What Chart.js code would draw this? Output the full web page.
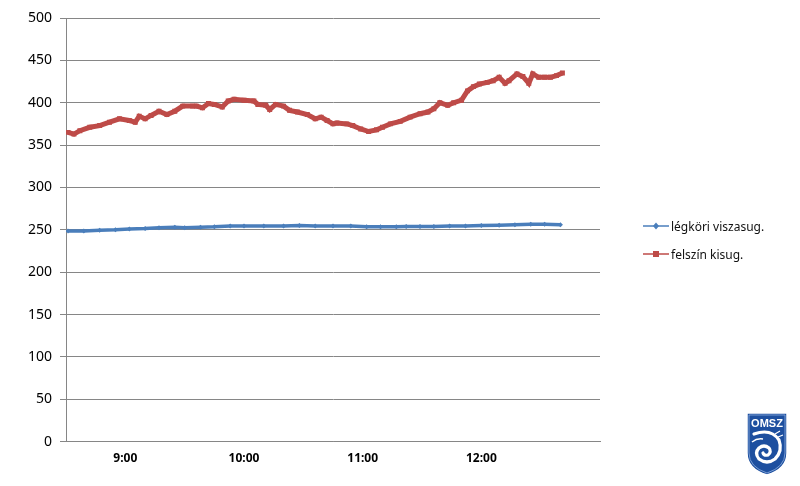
<!DOCTYPE html>
<html>
<head>
<meta charset="utf-8">
<script src="https://cdn.jsdelivr.net/npm/chart.js@4.4.1/dist/chart.umd.min.js"></script>
<style>
  body { margin: 0; background: #fff; }
  #wrap { position: relative; width: 800px; height: 486px; }
  #legend { position: absolute; left: 643px; top: 212px; font: 12px "Noto Sans", sans-serif; color: #111; }
  #legend .row { display: flex; align-items: center; height: 28px; }
  #legend svg { margin-right: 2px; }
  #logo { position: absolute; left: 745px; top: 411px; }
</style>
</head>
<body>
<div id="wrap">
  <canvas id="chart" width="800" height="486"></canvas>
  <div id="legend"></div>
  <svg id="logo" width="44" height="66" viewBox="0 0 44 66">
    <path d="M2 2 H42 V42 Q42 58 22 64 Q2 58 2 42 Z" fill="#1d4f9f" stroke="#ffffff" stroke-width="1.5"/>
    <path d="M4 4 H40 V42 Q40 56 22 62 Q4 56 4 42 Z" fill="none" stroke="#8fb0e0" stroke-width="0.8"/>
    <text x="22" y="16" text-anchor="middle" font-family="Liberation Sans, Arial, sans-serif" font-weight="bold" font-size="11" fill="#fff">OMSZ</text>
    <path d="M9 23 Q26 17 34 29 Q38 40 30 48 Q22 54 14 48 Q9 42 14 37 Q19 33 24 37 Q27 41 23 44 Q19 45 18 42" fill="none" stroke="#fff" stroke-width="3.2" stroke-linecap="round"/>
    <path d="M7 31 Q12 27 18 28" fill="none" stroke="#fff" stroke-width="1.5"/>
    <path d="M30 23 L35 20 M33 26 L38 24" stroke="#fff" stroke-width="1.2"/>
  </svg>
</div>
<script>
// idopontok (ora:perc) es ertekek, leolvasva a grafikonrol
const blueTimes = ['8:31','8:39','8:47','8:55','9:02','9:10','9:17','9:25','9:30','9:38','9:45','9:53',
  '10:00','10:10','10:20','10:28','10:36','10:45','10:54','11:02','11:09','11:17','11:22','11:29',
  '11:36','11:44','11:52','12:00','12:09','12:17','12:25','12:32','12:40'];
const blueValues = [248.5,248.5,249.5,250,251,251.5,252.5,253,252.5,253,253.5,254.5,
  254.5,254.5,254.5,255,254.5,254.5,254.5,253.5,253.5,253.5,254,254,
  254,254.5,254.5,255,255.5,256,256.5,256.5,256];

const redTimes = ['8:31','8:34','8:37','8:42','8:47','8:52','8:57','9:02','9:05','9:07','9:10','9:13',
  '9:17','9:21','9:25','9:29','9:34','9:36','9:39','9:42','9:45','9:49','9:52','9:55','10:00','10:05',
  '10:07','10:11','10:13','10:16','10:20','10:23','10:27','10:32','10:36','10:39','10:42','10:45',
  '10:47','10:52','10:55','10:59','11:03','11:07','11:10','11:14','11:19','11:24','11:29','11:33',
  '11:36','11:39','11:43','11:46','11:50','11:53','11:56','11:59','12:03','12:06','12:09','12:12',
  '12:14','12:18','12:21','12:24','12:26','12:29','12:32','12:35','12:38','12:41'];
const redValues = [365,363,367,371,373,377,381,379,377,384,381,385,
  390,386,390,396,396,396,394,399,398,395,402,404,403,402,
  398,397,392,398,396,391,389,386,381,383,379,375,
  376,375,373,369,366,368,371,375,378,383,387,389,
  393,400,397,400,403,414,419,422,424,426,430,423,
  426,434,431,423,434,430,430,430,432,435];

const seriesNames = ['légköri viszasug.', 'felszín kisug.'];
const yTicks = [0, 50, 100, 150, 200, 250, 300, 350, 400, 450, 500];
const xTicks = ['9:00', '10:00', '11:00', '12:00'];

const BLUE = '#4a7ebb';
const RED = '#be4b48';

function toMin(t) {
  const p = t.split(':');
  return +p[0] * 60 + +p[1];
}
function fmt(m) {
  return Math.floor(m / 60) + ':' + String(m % 60).padStart(2, '0');
}
function pts(times, vals) {
  return times.map((t, i) => ({ x: toMin(t), y: vals[i] }));
}

new Chart(document.getElementById('chart'), {
  type: 'line',
  data: {
    datasets: [
      {
        label: seriesNames[0],
        data: pts(blueTimes, blueValues),
        borderColor: BLUE,
        backgroundColor: BLUE,
        borderWidth: 3.5,
        pointStyle: 'rectRot',
        pointRadius: 2.5,
        pointBorderWidth: 0,
        tension: 0
      },
      {
        label: seriesNames[1],
        data: pts(redTimes, redValues),
        borderColor: RED,
        backgroundColor: RED,
        borderWidth: 5,
        pointStyle: 'rect',
        pointRadius: 3.5,
        pointBorderWidth: 0,
        tension: 0
      }
    ]
  },
  options: {
    responsive: false,
    animation: false,
    layout: { padding: { left: 20, right: 200, top: 18, bottom: 18 } },
    plugins: { legend: { display: false }, tooltip: { enabled: false } },
    scales: {
      x: {
        type: 'linear',
        min: 510,
        max: 780,
        afterBuildTicks: (s) => { s.ticks = xTicks.map((t) => ({ value: toMin(t) })); },
        ticks: {
          callback: (v) => fmt(v),
          color: '#000',
          padding: 2,
          maxRotation: 0,
          font: { family: 'Noto Sans', size: 12, weight: 'bold' }
        },
        grid: { display: false },
        border: { display: true, color: '#868686', width: 1 }
      },
      y: {
        min: 0,
        max: 500,
        afterBuildTicks: (s) => { s.ticks = yTicks.map((v) => ({ value: v })); },
        ticks: {
          color: '#000',
          padding: 8,
          font: { family: 'Noto Sans', size: 14 }
        },
        grid: { color: '#868686', lineWidth: 1, tickLength: 6 },
        border: { color: '#868686', width: 1 }
      }
    }
  }
});

// jelmagyarazat, vonal + jelolo mint az eredetin
const legend = document.getElementById('legend');
[[BLUE, 'diamond'], [RED, 'square']].forEach(([c, m], i) => {
  const mark = m === 'square'
    ? '<rect x="10" y="4" width="6" height="6" fill="' + c + '"/>'
    : '<path d="M13 3.5 L16 7 L13 10.5 L10 7 Z" fill="' + c + '"/>';
  legend.insertAdjacentHTML('beforeend',
    '<div class="row"><svg width="26" height="14"><line x1="0" y1="7" x2="26" y2="7" stroke="' + c +
    '" stroke-width="1.5"/>' + mark + '</svg><span>' + seriesNames[i] + '</span></div>');
});
</script>
</body>
</html>
